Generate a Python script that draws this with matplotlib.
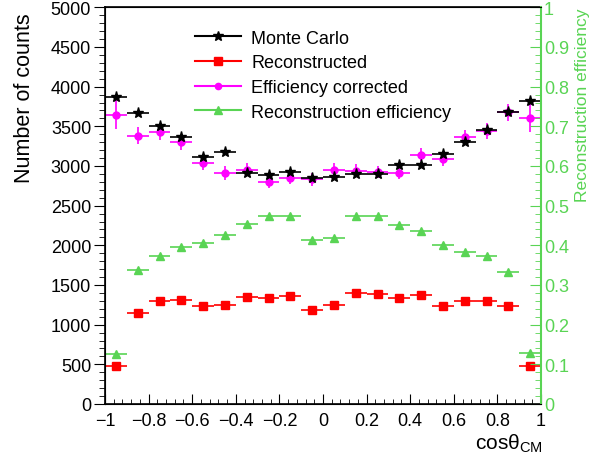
import numpy as np
from matplotlib import pyplot as plt
from matplotlib.ticker import MultipleLocator
from matplotlib.lines import Line2D

plt.rcParams['font.family'] = ['Liberation Sans', 'DejaVu Sans']
plt.rcParams['mathtext.fontset'] = 'custom'
plt.rcParams['mathtext.rm'] = 'Liberation Sans'
plt.rcParams['mathtext.it'] = 'Liberation Sans'

# bin centres of cos(theta_CM), 20 bins of width 0.1
binCentres = [-0.95, -0.85, -0.75, -0.65, -0.55, -0.45, -0.35, -0.25, -0.15, -0.05,
              0.05, 0.15, 0.25, 0.35, 0.45, 0.55, 0.65, 0.75, 0.85, 0.95]
binHalfWidth = 0.05

monteCarlo = [3866, 3665, 3509, 3370, 3118, 3181, 2909, 2892, 2922, 2846,
              2856, 2897, 2897, 3018, 3018, 3152, 3307, 3458, 3678, 3816]

reconstructed = [474, 1150, 1292, 1314, 1234, 1242, 1348, 1339, 1360, 1179,
                 1242, 1398, 1389, 1330, 1380, 1238, 1297, 1297, 1229, 474]

effCorrected = [3647, 3383, 3426, 3300, 3035, 2913, 2955, 2804, 2850, 2830,
                2951, 2942, 2922, 2913, 3140, 3090, 3363, 3446, 3678, 3606]
effCorrectedErr = [180, 105, 100, 95, 90, 85, 80, 78, 78, 85,
                   85, 78, 78, 80, 83, 90, 95, 100, 105, 180]

recoEfficiency = [0.127, 0.337, 0.374, 0.395, 0.406, 0.425, 0.454, 0.473, 0.475, 0.414,
                  0.418, 0.474, 0.473, 0.452, 0.436, 0.400, 0.384, 0.374, 0.332, 0.129]

green = '#59d454'
magenta = '#ff00ff'

fig = plt.figure(figsize=(5.94, 4.60), dpi=100)
ax = fig.add_axes([0.1768, 0.1196, 0.7340, 0.8623])
ax2 = ax.twinx()

ax.errorbar(binCentres, monteCarlo, xerr=binHalfWidth, fmt='*', color='black',
            markersize=8, elinewidth=1.2, capsize=0, zorder=4)
ax.errorbar(binCentres, reconstructed, xerr=binHalfWidth, fmt='s', color='red',
            markersize=5.5, elinewidth=1.2, capsize=0, zorder=3)
ax.errorbar(binCentres, effCorrected, xerr=binHalfWidth, yerr=effCorrectedErr, fmt='o',
            color=magenta, markersize=5, elinewidth=1.2, capsize=0, zorder=3)
ax2.errorbar(binCentres, recoEfficiency, xerr=binHalfWidth, fmt='^', color=green,
             markersize=6, elinewidth=1.2, capsize=0)

ax.set_xlim(-1, 1)
ax.set_ylim(0, 5000)
ax2.set_ylim(0, 1)

ax.xaxis.set_major_locator(MultipleLocator(0.2))
ax.xaxis.set_minor_locator(MultipleLocator(0.04))
ax.yaxis.set_major_locator(MultipleLocator(500))
ax.yaxis.set_minor_locator(MultipleLocator(100))
ax2.yaxis.set_major_locator(MultipleLocator(0.1))
ax2.yaxis.set_minor_locator(MultipleLocator(0.02))

ax.xaxis.set_major_formatter(plt.FuncFormatter(lambda v, p: ('%g' % round(v, 2)).replace('-', '\u2212')))
ax2.yaxis.set_major_formatter(plt.FuncFormatter(lambda v, p: '%g' % round(v, 2)))

ax.tick_params(axis='x', which='major', direction='in', length=7, labelsize=13, pad=6, top=False)
ax.tick_params(axis='x', which='minor', direction='in', length=3.5, top=False)
ax.tick_params(axis='y', which='major', direction='out', length=8, labelsize=13, pad=2)
ax.tick_params(axis='y', which='minor', direction='out', length=4.5)
ax2.tick_params(axis='y', which='major', direction='in', length=8, labelsize=13, pad=2,
                colors=green)
ax2.tick_params(axis='y', which='minor', direction='in', length=4.5, colors=green)
ax2.spines['right'].set_color(green)
ax2.spines['right'].set_linewidth(1.5)
for s in ['left', 'top', 'bottom']:
    ax.spines[s].set_linewidth(1.2)
ax.spines['right'].set_visible(False)

# axis titles, ROOT style: aligned to the end of the axis
fig.text(24 / 594, 1 - 13 / 460, 'Number of counts', rotation=90, ha='center', va='top',
         fontsize=15.5)
fig.text(582 / 594, 1 - 8 / 460, 'Reconstruction efficiency', rotation=90, ha='center',
         va='top', fontsize=12.5, color=green)
fig.text(0.913, 0.010, r'cos$\theta_{\mathregular{CM}}$', fontsize=15, ha='right',
         va='bottom')

handles = [Line2D([], [], color='black', marker='*', markersize=7, lw=1.5),
           Line2D([], [], color='red', marker='s', markersize=5.5, lw=1.5),
           Line2D([], [], color=magenta, marker='o', markersize=4.5, lw=1.5),
           Line2D([], [], color=green, marker='^', markersize=6, lw=1.5)]
labels = ['Monte Carlo', 'Reconstructed', 'Efficiency corrected', 'Reconstruction efficiency']
ax.legend(handles, labels, loc='upper left', bbox_to_anchor=(0.17, 0.985), frameon=False,
          fontsize=13, handlelength=2.5, handletextpad=0.6, labelspacing=0.43)

fig.savefig('out.png', dpi=100)
